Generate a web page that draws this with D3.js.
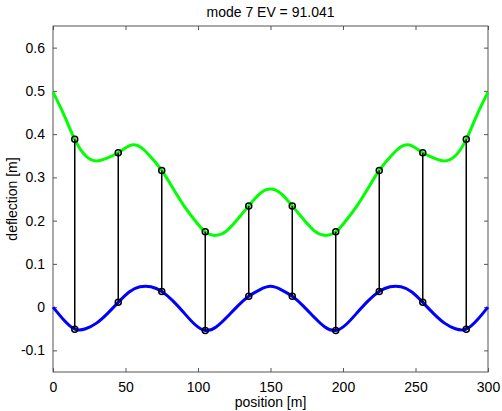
<!DOCTYPE html>
<html>
<head>
<meta charset="utf-8">
<script src="https://cdn.jsdelivr.net/npm/d3@7"></script>
<style>
body { margin: 0; background: #fff; }
text { font-family: "Liberation Sans", Arial, sans-serif; }
</style>
</head>
<body>
<svg width="502" height="411"></svg>
<script>
var width = 502;
var height = 411;
var margin = {top: 26, right: 14, bottom: 39, left: 53};

// curve samples, every 7.5 m
var curveX = [0, 7.5, 15, 22.5, 30, 37.5, 45, 52.5, 60, 67.5, 75, 82.5, 90, 97.5, 105, 112.5, 120, 127.5, 135, 142.5,
	150, 157.5, 165, 172.5, 180, 187.5, 195, 202.5, 210, 217.5, 225, 232.5, 240, 247.5, 255, 262.5, 270, 277.5, 285, 292.5, 300];
var upperCurve = [0.497, 0.445, 0.388, 0.350, 0.338, 0.345, 0.357, 0.373, 0.371, 0.347, 0.316, 0.276, 0.236, 0.202, 0.174, 0.166, 0.177, 0.204, 0.234, 0.262,
	0.273, 0.262, 0.234, 0.204, 0.177, 0.166, 0.174, 0.202, 0.236, 0.276, 0.316, 0.347, 0.371, 0.373, 0.357, 0.345, 0.338, 0.350, 0.388, 0.445, 0.497];
var lowerCurve = [0.000, -0.030, -0.051, -0.050, -0.037, -0.015, 0.011, 0.035, 0.047, 0.047, 0.036, 0.015, -0.012, -0.039, -0.054, -0.046, -0.023, 0.003, 0.025, 0.040,
	0.048, 0.040, 0.025, 0.003, -0.023, -0.046, -0.054, -0.039, -0.012, 0.015, 0.036, 0.047, 0.047, 0.035, 0.011, -0.015, -0.037, -0.050, -0.051, -0.030, 0.000];

// node positions and hanger ends
var nodeX = [15, 45, 75, 105, 135, 165, 195, 225, 255, 285];
var upperNode = [0.388, 0.357, 0.316, 0.174, 0.234, 0.234, 0.174, 0.316, 0.357, 0.388];
var lowerNode = [-0.051, 0.011, 0.036, -0.054, 0.025, 0.025, -0.054, 0.036, 0.011, -0.051];

var xTicks = [0, 50, 100, 150, 200, 250, 300];
var yTicks = [-0.1, 0, 0.1, 0.2, 0.3, 0.4, 0.5, 0.6];

var svg = d3.select("svg");

var x = d3.scaleLinear().domain([0, 300]).range([margin.left, width - margin.right]);
var y = d3.scaleLinear().domain([-0.15, 0.65]).range([height - margin.bottom, margin.top]);

var fmtY = function(d) { return d === 0 ? "0" : d.toFixed(1); };

// axes, MATLAB style box with inward ticks
var axisColor = "#555";
var styleAxis = function(g) {
	g.select(".domain").remove();
	g.selectAll(".tick line").attr("stroke", axisColor);
	g.selectAll(".tick text").attr("fill", "#000").style("font-size", "14px");
};

svg.append("g")
	.attr("transform", "translate(0," + (height - margin.bottom) + ")")
	.call(d3.axisBottom(x).tickValues(xTicks).tickSize(-4).tickPadding(10))
	.call(styleAxis);
svg.append("g")
	.attr("transform", "translate(0," + margin.top + ")")
	.call(d3.axisTop(x).tickValues(xTicks).tickSize(-4).tickFormat(""))
	.call(styleAxis);
svg.append("g")
	.attr("transform", "translate(" + margin.left + ",0)")
	.call(d3.axisLeft(y).tickValues(yTicks).tickSize(-4).tickPadding(8).tickFormat(fmtY))
	.call(styleAxis);
svg.append("g")
	.attr("transform", "translate(" + (width - margin.right) + ",0)")
	.call(d3.axisRight(y).tickValues(yTicks).tickSize(-4).tickFormat(""))
	.call(styleAxis);

svg.append("rect")
	.attr("x", margin.left)
	.attr("y", margin.top)
	.attr("width", width - margin.left - margin.right)
	.attr("height", height - margin.top - margin.bottom)
	.attr("fill", "none")
	.attr("stroke", axisColor)
	.attr("stroke-width", 1);

// curves
var line = d3.line()
	.x(function(d) { return x(d[0]); })
	.y(function(d) { return y(d[1]); })
	.curve(d3.curveNatural);

svg.append("path")
	.datum(d3.zip(curveX, upperCurve))
	.attr("d", line)
	.attr("fill", "none")
	.attr("stroke", "#00ff00")
	.attr("stroke-width", 3);

svg.append("path")
	.datum(d3.zip(curveX, lowerCurve))
	.attr("d", line)
	.attr("fill", "none")
	.attr("stroke", "#0000ff")
	.attr("stroke-width", 3);

// hangers
var hangers = d3.range(nodeX.length).map(function(i) {
	return {x: nodeX[i], top: upperNode[i], bottom: lowerNode[i]};
});

svg.selectAll(".hanger")
	.data(hangers)
	.enter()
	.append("line")
	.attr("class", "hanger")
	.attr("x1", function(d) { return x(d.x); })
	.attr("x2", function(d) { return x(d.x); })
	.attr("y1", function(d) { return y(d.top); })
	.attr("y2", function(d) { return y(d.bottom); })
	.attr("stroke", "#000")
	.attr("stroke-width", 1.5);

var ends = [];
hangers.forEach(function(d) {
	ends.push([d.x, d.top]);
	ends.push([d.x, d.bottom]);
});

svg.selectAll(".node")
	.data(ends)
	.enter()
	.append("circle")
	.attr("class", "node")
	.attr("cx", function(d) { return x(d[0]); })
	.attr("cy", function(d) { return y(d[1]); })
	.attr("r", 3)
	.attr("fill", "none")
	.attr("stroke", "#000")
	.attr("stroke-width", 1.5);

// labels
svg.append("text")
	.attr("x", (margin.left + width - margin.right) / 2)
	.attr("y", 17)
	.attr("text-anchor", "middle")
	.style("font-size", "14px")
	.text("mode 7 EV = 91.041");

svg.append("text")
	.attr("x", (margin.left + width - margin.right) / 2)
	.attr("y", 407)
	.attr("text-anchor", "middle")
	.style("font-size", "14px")
	.text("position [m]");

svg.append("text")
	.attr("transform", "translate(17," + ((margin.top + height - margin.bottom) / 2) + ") rotate(-90)")
	.attr("text-anchor", "middle")
	.style("font-size", "14px")
	.text("deflection [m]");
</script>
</body>
</html>
